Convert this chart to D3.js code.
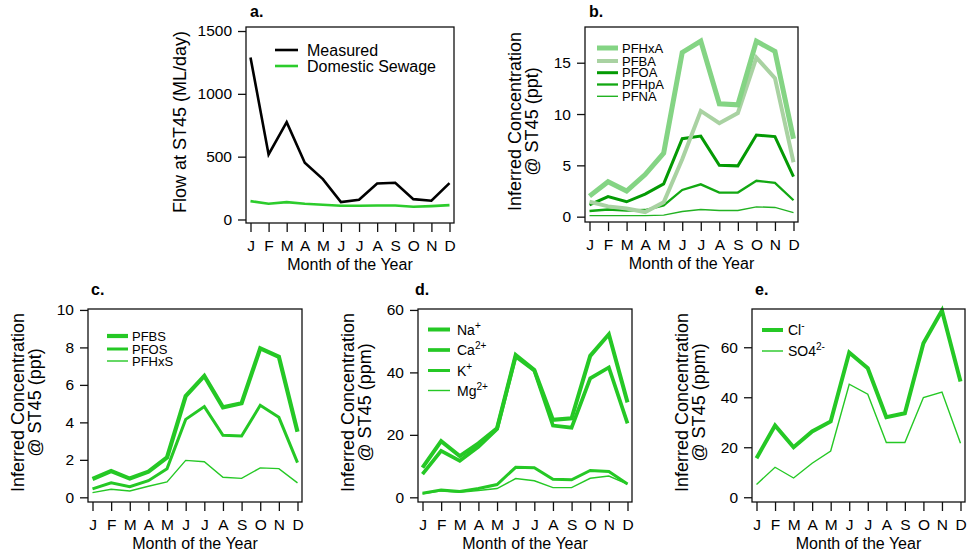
<!DOCTYPE html>
<html>
<head>
<meta charset="utf-8">
<script src="https://cdn.jsdelivr.net/npm/d3@7"></script>
<style>
  body { margin: 0; background: #fff; }
  svg { display: block; font-family: "Liberation Sans", Arial, Helvetica, sans-serif; }
</style>
</head>
<body>
<script>
// months and tick letters
var months = ["Jan","Feb","Mar","Apr","May","Jun","Jul","Aug","Sep","Oct","Nov","Dec"];
var monthTicks = ["J","F","M","A","M","J","J","A","S","O","N","D"];

// a. flow (ML/day)
var flowMeasured = [1290, 518, 775, 451, 321, 138, 157, 287, 292, 162, 149, 289];
var flowSewage   = [146, 125, 138, 125, 117, 109, 109, 111, 111, 101, 106, 114];

// b. PFCAs (ppt)
var pfhxa = [2.0, 3.4, 2.5, 4.1, 6.2, 16.0, 17.1, 11.0, 10.9, 17.1, 16.1, 7.6];
var pfba  = [1.45, 1.0, 0.8, 0.45, 1.4, 5.6, 10.3, 9.1, 10.1, 15.5, 13.5, 5.3];
var pfoa  = [1.15, 1.95, 1.45, 2.2, 3.2, 7.6, 7.85, 5.0, 4.95, 7.95, 7.8, 3.9];
var pfhpa = [0.55, 0.7, 0.6, 0.65, 1.1, 2.6, 3.15, 2.35, 2.35, 3.5, 3.3, 1.6];
var pfna  = [0.1, 0.1, 0.1, 0.1, 0.15, 0.5, 0.7, 0.6, 0.6, 0.95, 0.9, 0.4];

// c. PFSAs (ppt)
var pfbs  = [0.98, 1.4, 1.0, 1.37, 2.13, 5.4, 6.48, 4.8, 5.02, 7.95, 7.5, 3.5];
var pfos  = [0.45, 0.77, 0.57, 0.89, 1.53, 4.16, 4.84, 3.31, 3.27, 4.91, 4.27, 1.85];
var pfhxs = [0.25, 0.43, 0.34, 0.59, 0.82, 1.97, 1.9, 1.07, 1.01, 1.57, 1.53, 0.77];

// d. cations (ppm)
var na = [9.5, 18.0, 13.2, 17.3, 22.1, 45.6, 40.8, 24.8, 25.3, 45.3, 52.2, 30.4];
var ca = [7.4, 14.9, 11.7, 16.2, 21.9, 45.1, 40.6, 23.0, 22.3, 38.1, 41.6, 23.7];
var k  = [1.3, 2.3, 1.9, 2.8, 4.1, 9.6, 9.5, 5.8, 5.6, 8.6, 8.3, 4.3];
var mg = [1.1, 2.1, 1.6, 2.2, 2.8, 6.0, 5.3, 3.1, 3.1, 6.1, 6.8, 4.2];

// e. anions (ppm)
var cl  = [15.6, 28.7, 20.0, 26.3, 30.3, 57.9, 51.6, 32.0, 33.6, 61.6, 74.7, 46.3];
var so4 = [5.1, 12.0, 7.7, 13.6, 18.5, 45.2, 41.2, 21.9, 21.9, 39.9, 42.1, 21.6];

var bright = "#25c825";

var panels = [
  { label: "a.", labelPos: [250, 17], box: [246, 27, 454, 223], yDomain: [-28, 1532],
    yTicks: [0, 500, 1000, 1500], yTitle: ["Flow at ST45 (ML/day)"],
    legend: { x1: 275, x2: 298, tx: 307, ys: [50, 66], size: 16 },
    series: [
      { name: "Measured", values: flowMeasured, color: "#000", width: 2.6 },
      { name: "Domestic Sewage", values: flowSewage, color: "#2ccc2c", width: 2.6 }
    ] },
  { label: "b.", labelPos: [589, 17], box: [585, 27, 798, 222], yDomain: [-0.52, 18.48],
    yTicks: [0, 5, 10, 15], yTitle: ["Inferred Concentration", "@ ST45 (ppt)"],
    legend: { x1: 597, x2: 618, tx: 622, ys: [48, 61, 72.7, 84.5, 96.3], size: 13 },
    series: [
      { name: "PFHxA", values: pfhxa, color: "#84d484", width: 5 },
      { name: "PFBA", values: pfba, color: "#a9d2a2", width: 4 },
      { name: "PFOA", values: pfoa, color: "#049a04", width: 3 },
      { name: "PFHpA", values: pfhpa, color: "#12a812", width: 2.3 },
      { name: "PFNA", values: pfna, color: "#22b222", width: 1.4 }
    ] },
  { label: "c.", labelPos: [91, 295], box: [88, 309, 302, 502], yDomain: [-0.25, 10.05],
    yTicks: [0, 2, 4, 6, 8, 10], yTitle: ["Inferred Concentration", "@ ST45 (ppt)"],
    legend: { x1: 107, x2: 128, tx: 132, ys: [336, 349, 361], size: 13 },
    series: [
      { name: "PFBS", values: pfbs, color: bright, width: 4.2 },
      { name: "PFOS", values: pfos, color: bright, width: 3 },
      { name: "PFHxS", values: pfhxs, color: bright, width: 1.4 }
    ] },
  { label: "d.", labelPos: [415, 295], box: [418, 309, 632, 502], yDomain: [-1.5, 60.3],
    yTicks: [0, 20, 40, 60], yTitle: ["Inferred Concentration", "@ ST45 (ppm)"],
    legend: { x1: 428, x2: 450, tx: 457, ys: [329.5, 350, 370.5, 390.5], size: 14 },
    series: [
      { name: "Na", sup: "+", values: na, color: bright, width: 4 },
      { name: "Ca", sup: "2+", values: ca, color: bright, width: 3.7 },
      { name: "K", sup: "+", values: k, color: bright, width: 3 },
      { name: "Mg", sup: "2+", values: mg, color: bright, width: 1.4 }
    ] },
  { label: "e.", labelPos: [755, 295], box: [752, 309, 965, 502], yDomain: [-1.9, 75.3],
    yTicks: [0, 20, 40, 60], yTitle: ["Inferred Concentration", "@ ST45 (ppm)"],
    legend: { x1: 762, x2: 783, tx: 788, ys: [330, 351], size: 14 },
    series: [
      { name: "Cl", sup: "-", values: cl, color: bright, width: 4 },
      { name: "SO4", sup: "2-", values: so4, color: bright, width: 1.4 }
    ] }
];

var svg = d3.select("body").append("svg")
    .attr("width", 968)
    .attr("height", 556);

panels.forEach(function(p) {
  var left = p.box[0], top = p.box[1], right = p.box[2], bottom = p.box[3];

  var x = d3.scalePoint()
      .domain(months)
      .range([left + 4.5, right - 4.5]);

  var y = d3.scaleLinear()
      .domain(p.yDomain)
      .range([bottom, top]);

  var g = svg.append("g");

  // lines, first legend entry ends up on top
  var line = d3.line()
      .x(function(d, i) { return x(months[i]); })
      .y(function(d) { return y(d); });

  p.series.slice().reverse().forEach(function(s) {
    g.append("path")
      .attr("d", line(s.values))
      .attr("fill", "none")
      .attr("stroke", s.color)
      .attr("stroke-width", s.width)
      .attr("stroke-linejoin", "miter");
  });

  // frame
  g.append("rect")
    .attr("x", left).attr("y", top)
    .attr("width", right - left).attr("height", bottom - top)
    .attr("fill", "none")
    .attr("stroke", "#111")
    .attr("stroke-width", 1.3);

  // y axis
  var ya = g.append("g")
      .attr("transform", "translate(" + left + ",0)")
      .call(d3.axisLeft(y).tickValues(p.yTicks).tickSize(8).tickSizeOuter(0).tickPadding(6)
        .tickFormat(d3.format("d")));
  ya.select(".domain").remove();

  // x axis
  var xa = g.append("g")
      .attr("transform", "translate(0," + bottom + ")")
      .call(d3.axisBottom(x).tickSize(9).tickSizeOuter(0).tickPadding(8)
        .tickFormat(function(d, i) { return monthTicks[i]; }));
  xa.select(".domain").remove();

  g.selectAll(".tick line").attr("stroke", "#111").attr("stroke-width", 1.3);
  g.selectAll(".tick text")
    .attr("fill", "#000")
    .style("font-size", "15.5px")
    .style("font-family", "'Liberation Sans', Arial, Helvetica, sans-serif");

  // x title
  g.append("text")
    .attr("x", (left + right) / 2)
    .attr("y", bottom + 47)
    .attr("text-anchor", "middle")
    .style("font-size", "16px")
    .text("Month of the Year");

  // y title
  var cy = (top + bottom) / 2 - 3;
  p.yTitle.forEach(function(t, i) {
    var bx = p.yTitle.length === 1 ? left - 60 : left - 64.5 + i * 17.5;
    g.append("text")
      .attr("transform", "translate(" + bx + "," + cy + ") rotate(-90)")
      .attr("text-anchor", "middle")
      .style("font-size", "18px")
      .text(t);
  });

  // panel letter
  g.append("text")
    .attr("x", p.labelPos[0])
    .attr("y", p.labelPos[1])
    .style("font-size", "16px")
    .style("font-weight", "bold")
    .text(p.label);

  // legend
  var lg = p.legend;
  p.series.forEach(function(s, i) {
    g.append("line")
      .attr("x1", lg.x1).attr("x2", lg.x2)
      .attr("y1", lg.ys[i]).attr("y2", lg.ys[i])
      .attr("stroke", s.color)
      .attr("stroke-width", s.width);
    var t = g.append("text")
      .attr("x", lg.tx)
      .attr("y", lg.ys[i])
      .attr("dy", "0.36em")
      .style("font-size", lg.size + "px")
      .text(s.name);
    if (s.sup) {
      t.append("tspan")
        .attr("dy", "-0.55em")
        .style("font-size", (lg.size * 0.72) + "px")
        .text(s.sup);
    }
  });
});
</script>
</body>
</html>
